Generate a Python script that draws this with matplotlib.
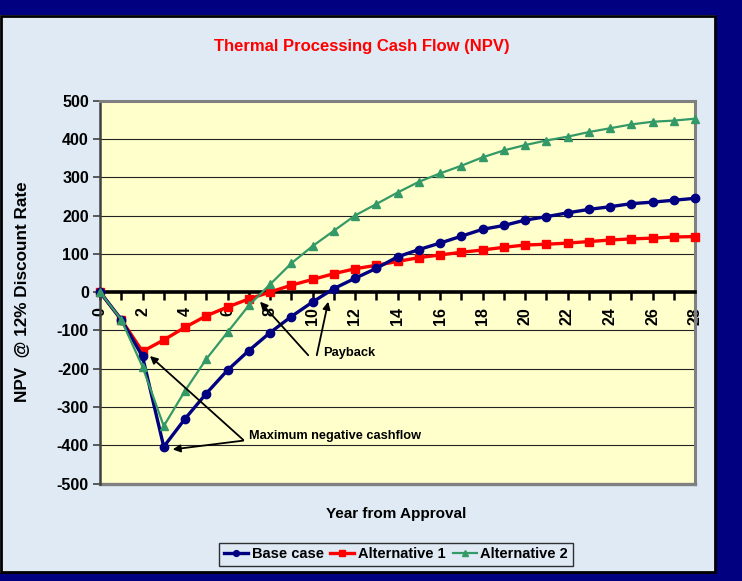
import matplotlib
matplotlib.use("Agg")
import matplotlib.pyplot as plt
from matplotlib.patches import Rectangle
import numpy as np

plt.rcParams['font.family'] = ['Liberation Sans', 'DejaVu Sans']
plt.rcParams['font.weight'] = 'bold'

years = list(range(0, 29))
base_case = [0, -72, -168, -404, -331, -265, -204, -153, -106, -64, -26, 9, 36,
             62, 92, 111, 128, 146, 164, 174, 188, 197, 207, 216, 223, 231, 235, 240, 245]
alt1 = [0, -72, -155, -125, -92, -62, -39, -18, 0, 18, 33, 48, 61,
        70, 80, 90, 97, 104, 110, 117, 123, 125, 128, 132, 136, 139, 141, 144, 145]
alt2 = [0, -72, -195, -350, -258, -175, -105, -35, 20, 75, 120, 160, 200,
        230, 260, 288, 310, 330, 352, 370, 384, 396, 406, 418, 428, 438, 445, 448, 453]

series_names = ["Base case", "Alternative 1", "Alternative 2"]
y_ticks = list(range(-500, 501, 100))
x_major = list(range(0, 29, 2))
x_minor = list(range(0, 29, 1))

W, H = 742, 581
fig = plt.figure(figsize=(W / 100, H / 100), dpi=100)
bg = '#dfeaf5'
fig.patch.set_facecolor(bg)

# navy frame
navy = '#000080'
fig.patches.append(Rectangle((0, 1 - 15 / H), 1, 15 / H, transform=fig.transFigure,
                             facecolor=navy, edgecolor='none', zorder=0))
fig.patches.append(Rectangle((0, 0), 1, 8 / H, transform=fig.transFigure,
                             facecolor=navy, edgecolor='none', zorder=0))
fig.patches.append(Rectangle((716 / W, 0), 1 - 716 / W, 1, transform=fig.transFigure,
                             facecolor=navy, edgecolor='none', zorder=0))
fig.patches.append(Rectangle((1 / W, 9 / H), 714 / W, (H - 9 - 16) / H,
                             transform=fig.transFigure, facecolor='none',
                             edgecolor='black', linewidth=2, zorder=1))

ax = fig.add_axes([100 / W, (H - 483.5) / H, (695 - 100) / W, (483.5 - 100.7) / H])
ax.set_facecolor('#ffffcc')
ax.set_xlim(0, 28)
ax.set_ylim(-500, 500)

for y in y_ticks[1:-1]:
    if y != 0:
        ax.axhline(y, color='#222222', linewidth=0.8, zorder=1)

# plot area border
for s in ['top', 'right']:
    ax.spines[s].set_color('#808080')
    ax.spines[s].set_linewidth(2.2)
ax.spines['left'].set_color('#404040')
ax.spines['left'].set_linewidth(1.8)
ax.spines['bottom'].set_position(('data', 0))
ax.spines['bottom'].set_color('black')
ax.spines['bottom'].set_linewidth(2.6)
ax.plot([0, 1], [0, 0], transform=ax.transAxes, color='#808080', lw=2.4,
        clip_on=False, zorder=2)

ax.set_yticks(y_ticks)
ax.set_yticklabels([str(v) for v in y_ticks], fontsize=11.5, fontweight='bold')
ax.set_xticks(x_major)
ax.set_xticks(x_minor, minor=True)
ax.set_xticklabels([str(v) for v in x_major], fontsize=11.5, fontweight='bold',
                   rotation=90, va='top', ha='center')
ax.tick_params(axis='y', direction='out', length=5, width=1.2, color='#404040', pad=3)
ax.tick_params(axis='x', which='both', direction='out', length=6, width=1.8,
               color='black', pad=5)

ax.plot(years, base_case, color='#000080', linewidth=2.4, marker='o', markersize=6,
        label=series_names[0], clip_on=False, zorder=5)
ax.plot(years, alt1, color='#ff0000', linewidth=2.4, marker='s', markersize=6,
        label=series_names[1], clip_on=False, zorder=4)
ax.plot(years, alt2, color='#339966', linewidth=1.6, marker='^', markersize=6,
        label=series_names[2], clip_on=False, zorder=6)

arrow = dict(arrowstyle='-|>', color='black', lw=1.3, mutation_scale=11,
             shrinkA=0, shrinkB=0)
ax.annotate('', xy=(7.53, -25), xytext=(9.8, -165), arrowprops=arrow, zorder=7)
ax.annotate('', xy=(10.74, -25), xytext=(10.2, -165), arrowprops=arrow, zorder=7)
ax.text(10.5, -160, 'Payback', fontsize=9.3, fontweight='bold', ha='left', va='center',
        zorder=7)
ax.annotate('', xy=(2.35, -167), xytext=(6.74, -386), arrowprops=arrow, zorder=7)
ax.annotate('', xy=(3.42, -411), xytext=(6.74, -388), arrowprops=arrow, zorder=7)
ax.text(7.03, -376, 'Maximum negative cashflow', fontsize=9.2, fontweight='bold',
        ha='left', va='center', zorder=7)

fig.text(362 / W, 1 - 46 / H, 'Thermal Processing Cash Flow (NPV)', color='#ff0000',
         fontsize=12, fontweight='bold', ha='center', va='center')
fig.text(23 / W, 1 - 292 / H, 'NPV  @ 12% Discount Rate', rotation=90, fontsize=12.3,
         fontweight='bold', ha='center', va='center')
fig.text(396 / W, 1 - 514 / H, 'Year from Approval', fontsize=11, fontweight='bold',
         ha='center', va='center')

leg = fig.legend(loc='center', bbox_to_anchor=(396 / W, 1 - 554.5 / H), ncol=3,
                 fontsize=10.5, frameon=True, fancybox=False, handlelength=1.65,
                 handletextpad=0.27, columnspacing=0.45, borderpad=0.3,
                 markerscale=0.7)
leg.get_frame().set_edgecolor('black')
leg.get_frame().set_linewidth(1.0)
leg.get_frame().set_facecolor(bg)
for t in leg.get_texts():
    t.set_fontweight('bold')

fig.savefig('out.png', dpi=100, facecolor=fig.get_facecolor())
